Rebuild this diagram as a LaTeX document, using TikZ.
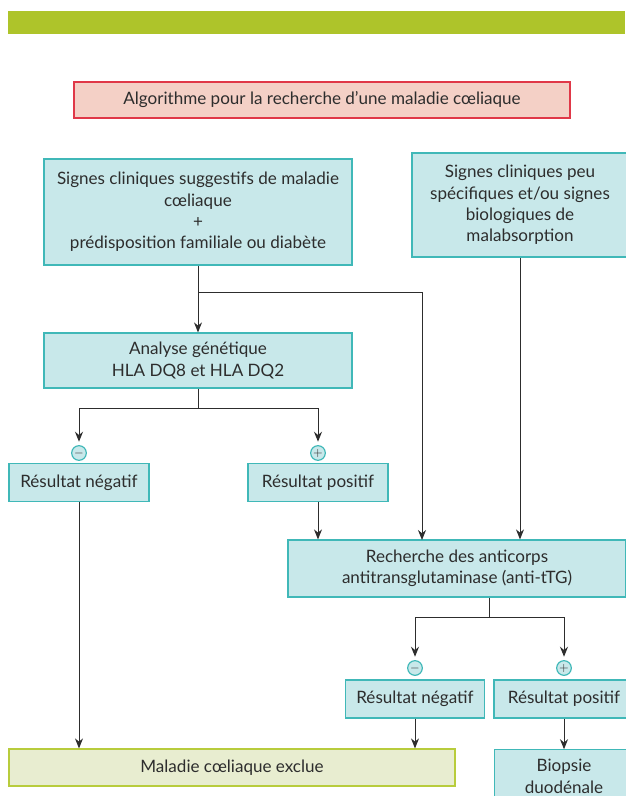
\documentclass[tikz,border=0pt]{standalone}
\usepackage{fontspec}
\setmainfont{Lato}
\usepackage{tikz}
\usetikzlibrary{arrows.meta,calc}
\definecolor{bandgreen}{RGB}{174,196,42}
\definecolor{pinkfill}{RGB}{244,208,198}
\definecolor{pinkline}{RGB}{224,56,72}
\definecolor{cyanfill}{RGB}{200,232,234}
\definecolor{cyanline}{RGB}{64,184,184}
\definecolor{olivefill}{RGB}{232,237,208}
\definecolor{oliveline}{RGB}{184,204,60}
\definecolor{ink}{RGB}{45,45,45}
\tikzset{
  boxC/.style={ draw=cyanline, fill=cyanfill, line width=0.9pt, align=center, inner sep=0pt,
    text=ink, font=\fontsize{12.8}{16}\selectfont }
}
\tikzset{
  boxT/.style={ boxC, draw=pinkline, fill=pinkfill }
}
\tikzset{
  boxX/.style={ boxC, draw=oliveline, fill=olivefill }
}
\tikzset{
  sgn/.style={ draw=cyanline, fill=cyanfill, line width=0.9pt, circle, inner sep=0pt,
    minimum size=11pt, text=ink, font=\small }
}
\tikzset{
  link/.style={ draw=ink, line width=0.75pt, -{Stealth[length=7.5pt,width=6pt]} }
}

\begin{document}
\begin{tikzpicture}[x=0.75pt, y=-0.75pt]
  \useasboundingbox (0,0) rectangle (625,796);
  \fill[bandgreen] (8,11) rectangle (625,34);

  \node[boxT, minimum width=372pt, minimum height=27pt] (title) at (322,100)
    {Algorithme pour la recherche d’une maladie cœliaque};

  \node[boxC, minimum width=231pt, minimum height=79.5pt] (clin) at (198,212)
    {Signes cliniques suggestifs de maladie\\cœliaque\\+\\prédisposition familiale ou diabète};
  \node[boxC, minimum width=162pt, minimum height=78pt] (peu) at (520,205)
    {Signes cliniques peu\\spécifiques et/ou signes\\biologiques de\\malabsorption};
  \node[boxC, minimum width=231pt, minimum height=41.25pt] (ana) at (198,360.5)
    {Analyse génétique\\HLA DQ8 et HLA DQ2};

  \node[boxC, minimum width=105pt, minimum height=28pt] (negA) at (79,482.5) {Résultat négatif};
  \node[boxC, minimum width=105pt, minimum height=28pt] (posA) at (318,482.5) {Résultat positif};
  \node[sgn] (mA) at (79,453) {$-$};
  \node[sgn] (pA) at (318,453) {$+$};

  \node[boxC, minimum width=253.5pt, minimum height=42.75pt] (anti) at (457,568.5)
    {Recherche des anticorps\\antitransglutaminase (anti-tTG)};

  \node[boxC, minimum width=104pt, minimum height=28.5pt] (negB) at (415,699) {Résultat négatif};
  \node[boxC, minimum width=105pt, minimum height=28.5pt] (posB) at (564,699) {Résultat positif};
  \node[sgn] (mB) at (415,668) {$-$};
  \node[sgn] (pB) at (564,668) {$+$};

  \node[boxX, minimum width=334.5pt, minimum height=27.75pt] (excl) at (232,767.5)
    {Maladie cœliaque exclue};
  \node[boxC, minimum width=104pt, minimum height=40pt] (bio) at (564,776.5)
    {Biopsie\\duodénale};

  % joints
  \coordinate (j1) at (198,292);
  \coordinate (j2) at (198,408);
  \coordinate (j3) at (489,617);
  \coordinate (j4) at (422,540);

  \draw[link] (clin.south) -- (ana.north);
  \draw[link] (j1) -| (j4);
  \draw[link] (peu.south) -- (peu.south |- anti.north);

  \draw[ink, line width=0.75pt] (ana.south) -- (j2);
  \draw[link, shorten >=2.5pt] (j2) -| (mA);
  \draw[link, shorten >=2.5pt] (j2) -| (pA);
  \draw[link] (posA.south) -- (posA.south |- anti.north);
  \draw[link] (negA.south) -- (negA.south |- excl.north);

  \draw[ink, line width=0.75pt] (j3 |- anti.south) -- (j3);
  \draw[link, shorten >=2.5pt] (j3) -| (mB);
  \draw[link, shorten >=2.5pt] (j3) -| (pB);
  \draw[link] (negB.south) -- (negB.south |- excl.north);
  \draw[link] (posB.south) -- (bio.north);
\end{tikzpicture}
\end{document}
